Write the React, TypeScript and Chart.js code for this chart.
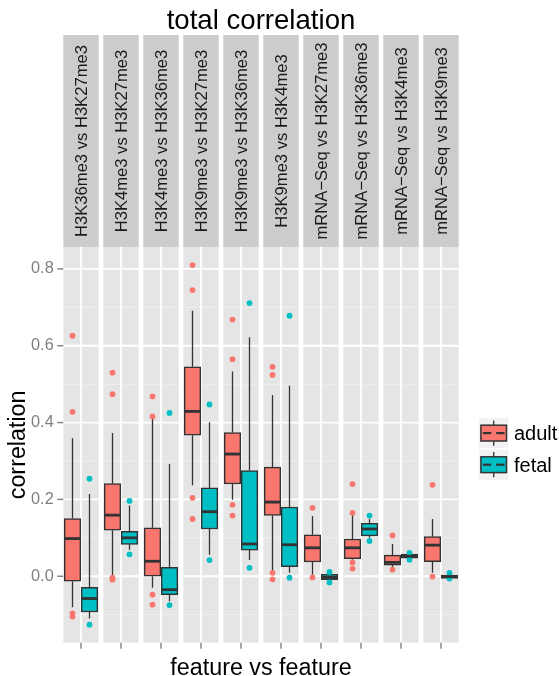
import { useEffect, useRef } from 'react';
import { Chart, registerables } from 'chart.js';
Chart.register(...registerables);

// ---------- data ----------
const panels = [
  'H3K36me3 vs H3K27me3',
  'H3K4me3 vs H3K27me3',
  'H3K4me3 vs H3K36me3',
  'H3K9me3 vs H3K27me3',
  'H3K9me3 vs H3K36me3',
  'H3K9me3 vs H3K4me3',
  'mRNA\u2212Seq vs H3K27me3',
  'mRNA\u2212Seq vs H3K36me3',
  'mRNA\u2212Seq vs H3K4me3',
  'mRNA\u2212Seq vs H3K9me3',
];
const groups = ['adult', 'fetal'];
const groupColors = ['#F8766D', '#00BFC4'];

const yTickValues = [0.0, 0.2, 0.4, 0.6, 0.8];
const yTickLabels = ['0.0', '0.2', '0.4', '0.6', '0.8'];
const yMinorValues = [-0.1, 0.1, 0.3, 0.5, 0.7];

const adultLow = [-0.081, 0.003, -0.030, 0.237, 0.199, 0.013, 0.004, 0.043, 0.024, 0.009];
const adultQ1 = [-0.013, 0.120, 0.000, 0.367, 0.240, 0.158, 0.037, 0.046, 0.029, 0.038];
const adultMed = [0.098, 0.159, 0.039, 0.429, 0.318, 0.193, 0.074, 0.074, 0.036, 0.081];
const adultQ3 = [0.150, 0.241, 0.126, 0.545, 0.374, 0.284, 0.108, 0.097, 0.055, 0.103];
const adultHigh = [0.359, 0.373, 0.411, 0.691, 0.533, 0.472, 0.157, 0.160, 0.084, 0.149];
const adultOutliers = [
  [0.626, 0.428, -0.097, -0.105],
  [0.530, 0.474, -0.004, -0.009],
  [0.468, 0.416, -0.048, -0.074],
  [0.810, 0.745, 0.204, 0.149],
  [0.668, 0.565, 0.186, 0.158],
  [0.545, 0.524, 0.009, -0.008],
  [0.178, -0.003],
  [0.240, 0.165, 0.036, 0.020],
  [0.106, 0.017],
  [0.238, -0.001],
];

const fetalLow = [-0.110, 0.069, -0.065, 0.056, 0.042, 0.009, -0.009, 0.100, 0.047, -0.006];
const fetalQ1 = [-0.093, 0.083, -0.048, 0.123, 0.068, 0.025, -0.009, 0.105, 0.047, -0.006];
const fetalMed = [-0.058, 0.100, -0.035, 0.168, 0.084, 0.082, -0.003, 0.123, 0.052, -0.001];
const fetalQ3 = [-0.029, 0.117, 0.023, 0.230, 0.275, 0.180, 0.005, 0.138, 0.058, 0.003];
const fetalHigh = [0.214, 0.184, 0.292, 0.401, 0.622, 0.496, 0.005, 0.149, 0.058, 0.003];
const fetalOutliers = [
  [0.254, -0.126],
  [0.196, 0.057],
  [0.425, -0.075],
  [0.447, 0.042],
  [0.711, 0.022],
  [0.678, -0.004],
  [0.011, -0.016],
  [0.158, 0.092],
  [0.061, 0.043],
  [0.009, -0.006],
];

const lows = [adultLow, fetalLow];
const q1s = [adultQ1, fetalQ1];
const meds = [adultMed, fetalMed];
const q3s = [adultQ3, fetalQ3];
const highs = [adultHigh, fetalHigh];
const outs = [adultOutliers, fetalOutliers];

// ---------- layout ----------
const W = 559;
const H = 676;
const PANEL_W = 0.885; // panel width in panel-pitch units
const DODGE = 0.2125;
const STRIP_TOP = 35;
const FONT = '"Liberation Sans", Arial, Helvetica, sans-serif';
const DARK = '#333333';

const panelCenter = (i: number) => i + PANEL_W / 2;
const boxX = (i: number, g: number) => panelCenter(i) + (g === 0 ? -DODGE : DODGE);

function line(ctx: CanvasRenderingContext2D, x1: number, y1: number, x2: number, y2: number) {
  ctx.beginPath();
  ctx.moveTo(x1, y1);
  ctx.lineTo(x2, y2);
  ctx.stroke();
}

const facetPlugin = {
  id: 'facets',
  beforeDatasetsDraw(chart: any) {
    const { ctx, chartArea: ca } = chart;
    const x = chart.scales.x;
    const y = chart.scales.y;
    ctx.save();
    panels.forEach((label, i) => {
      const l = x.getPixelForValue(i);
      const r = x.getPixelForValue(i + PANEL_W);
      ctx.fillStyle = '#E5E5E5';
      ctx.fillRect(l, ca.top, r - l, ca.bottom - ca.top);
      ctx.strokeStyle = '#F2F2F2';
      ctx.lineWidth = 0.9;
      yMinorValues.forEach((v) => {
        const py = y.getPixelForValue(v);
        line(ctx, l, py, r, py);
      });
      ctx.strokeStyle = '#FFFFFF';
      ctx.lineWidth = 1.8;
      yTickValues.forEach((v) => {
        const py = y.getPixelForValue(v);
        line(ctx, l, py, r, py);
      });
      const cx = x.getPixelForValue(panelCenter(i));
      line(ctx, cx, ca.top, cx, ca.bottom);

      // strip
      ctx.fillStyle = '#CCCCCC';
      ctx.fillRect(l, STRIP_TOP, r - l, ca.top - STRIP_TOP);
      ctx.save();
      ctx.translate((l + r) / 2, (STRIP_TOP + ca.top) / 2);
      ctx.rotate(-Math.PI / 2);
      ctx.fillStyle = '#1A1A1A';
      ctx.font = `16.6px ${FONT}`;
      ctx.textAlign = 'center';
      ctx.textBaseline = 'middle';
      ctx.fillText(label, 0, 1);
      ctx.restore();
    });

    // whiskers
    ctx.save();
    ctx.beginPath();
    ctx.rect(ca.left, ca.top, ca.right - ca.left, ca.bottom - ca.top);
    ctx.clip();
    ctx.strokeStyle = DARK;
    ctx.lineWidth = 1.3;
    for (let g = 0; g < 2; g++) {
      panels.forEach((_, i) => {
        const px = x.getPixelForValue(boxX(i, g));
        line(ctx, px, y.getPixelForValue(highs[g][i]), px, y.getPixelForValue(q3s[g][i]));
        line(ctx, px, y.getPixelForValue(q1s[g][i]), px, y.getPixelForValue(lows[g][i]));
      });
    }
    ctx.restore();
    ctx.restore();
  },
  afterDatasetsDraw(chart: any) {
    const { ctx } = chart;
    const x = chart.scales.x;
    const y = chart.scales.y;
    ctx.save();
    ctx.strokeStyle = DARK;
    ctx.lineWidth = 2.8;
    for (let g = 0; g < 2; g++) {
      const meta = chart.getDatasetMeta(g);
      panels.forEach((_, i) => {
        const bar = meta.data[i];
        const half = bar.width / 2;
        const px = x.getPixelForValue(boxX(i, g));
        const py = y.getPixelForValue(meds[g][i]);
        line(ctx, px - half + 0.5, py, px + half - 0.5, py);
      });
    }
    ctx.restore();
  },
  afterDraw(chart: any) {
    const { ctx, chartArea: ca } = chart;
    const x = chart.scales.x;
    const y = chart.scales.y;
    ctx.save();
    // y ticks
    ctx.strokeStyle = '#7F7F7F';
    ctx.lineWidth = 1.4;
    ctx.fillStyle = '#7F7F7F';
    ctx.font = `16.3px ${FONT}`;
    ctx.textAlign = 'right';
    ctx.textBaseline = 'middle';
    yTickValues.forEach((v, k) => {
      const py = y.getPixelForValue(v);
      line(ctx, ca.left - 6, py, ca.left, py);
      ctx.fillText(yTickLabels[k], ca.left - 9.6, py);
    });
    // x ticks
    panels.forEach((_, i) => {
      const cx = x.getPixelForValue(panelCenter(i));
      line(ctx, cx, ca.bottom, cx, ca.bottom + 6);
    });

    // titles
    const midX = (ca.left + ca.right) / 2;
    ctx.fillStyle = '#000000';
    ctx.textAlign = 'center';
    ctx.textBaseline = 'alphabetic';
    ctx.font = `27.6px ${FONT}`;
    ctx.fillText('total correlation', midX, 29.3);
    ctx.font = `23.3px ${FONT}`;
    ctx.fillText('feature vs feature', midX, 674.5);
    ctx.save();
    ctx.translate(25, (ca.top + ca.bottom) / 2);
    ctx.rotate(-Math.PI / 2);
    ctx.fillText('correlation', 0, 0);
    ctx.restore();

    // legend
    const keyL = 478.3;
    const keyW = 30.8;
    const keyH = 31.6;
    const key0 = 417.3;
    groups.forEach((name, g) => {
      const top = key0 + g * keyH;
      ctx.fillStyle = '#F2F2F2';
      ctx.fillRect(keyL, top, keyW, keyH);
      ctx.strokeStyle = '#FFFFFF';
      ctx.lineWidth = 1.2;
      ctx.strokeRect(keyL, top, keyW, keyH);
      const bl = keyL + 2.6;
      const br = keyL + keyW - 2.6;
      const cx = (bl + br) / 2;
      ctx.strokeStyle = DARK;
      ctx.lineWidth = 1.3;
      line(ctx, cx, top + keyH * 0.1, cx, top + keyH * 0.25);
      line(ctx, cx, top + keyH * 0.75, cx, top + keyH * 0.9);
      ctx.fillStyle = groupColors[g];
      ctx.fillRect(bl, top + keyH * 0.25, br - bl, keyH * 0.5);
      ctx.lineWidth = 1.5;
      ctx.strokeRect(bl, top + keyH * 0.25, br - bl, keyH * 0.5);
      ctx.lineWidth = 2.2;
      const my = top + keyH * 0.5;
      line(ctx, bl + 2, my, cx - 2.5, my);
      line(ctx, cx + 2.5, my, br - 2, my);
      ctx.fillStyle = '#000000';
      ctx.textAlign = 'left';
      ctx.textBaseline = 'alphabetic';
      ctx.font = `20px ${FONT}`;
      ctx.fillText(name, 514, top + 22.7);
    });
    ctx.restore();
  },
};

export default function App() {
  const ref = useRef<HTMLCanvasElement | null>(null);
  useEffect(() => {
    if (!ref.current) return;
    const boxDatasets = groups.map((name, g) => ({
      type: 'bar' as const,
      label: name,
      data: panels.map((_, i) => ({ x: boxX(i, g), y: [q1s[g][i], q3s[g][i]] })),
      backgroundColor: groupColors[g],
      borderColor: DARK,
      borderWidth: 1.5,
      borderSkipped: false,
      barThickness: 16.6,
      grouped: false,
      order: 2,
    }));
    const outlierDatasets = groups.map((name, g) => ({
      type: 'scatter' as const,
      label: name + ' outliers',
      data: panels.flatMap((_, i) => outs[g][i].map((v) => ({ x: boxX(i, g), y: v }))),
      backgroundColor: groupColors[g],
      borderWidth: 0,
      pointRadius: 2.9,
      pointHoverRadius: 2.9,
      order: 1,
    }));
    const chart = new Chart(ref.current, {
      type: 'bar',
      data: { datasets: [...boxDatasets, ...outlierDatasets] as any },
      options: {
        animation: false,
        responsive: false,
        events: [],
        layout: { padding: { left: 63.3, right: W - 458.7, top: 247, bottom: H - 642.7 } },
        plugins: { legend: { display: false }, tooltip: { enabled: false }, title: { display: false } },
        scales: {
          x: { type: 'linear', min: 0, max: 9 + PANEL_W, display: false, offset: false },
          y: { type: 'linear', min: -0.173, max: 0.857, display: false },
        },
      },
      plugins: [facetPlugin],
    });
    return () => chart.destroy();
  }, []);
  return (
    <div style={{ position: 'absolute', left: 0, top: 0, width: W, height: H, background: '#FFFFFF' }}>
      <canvas ref={ref} width={W} height={H} style={{ width: W, height: H, display: 'block' }} />
    </div>
  );
}
